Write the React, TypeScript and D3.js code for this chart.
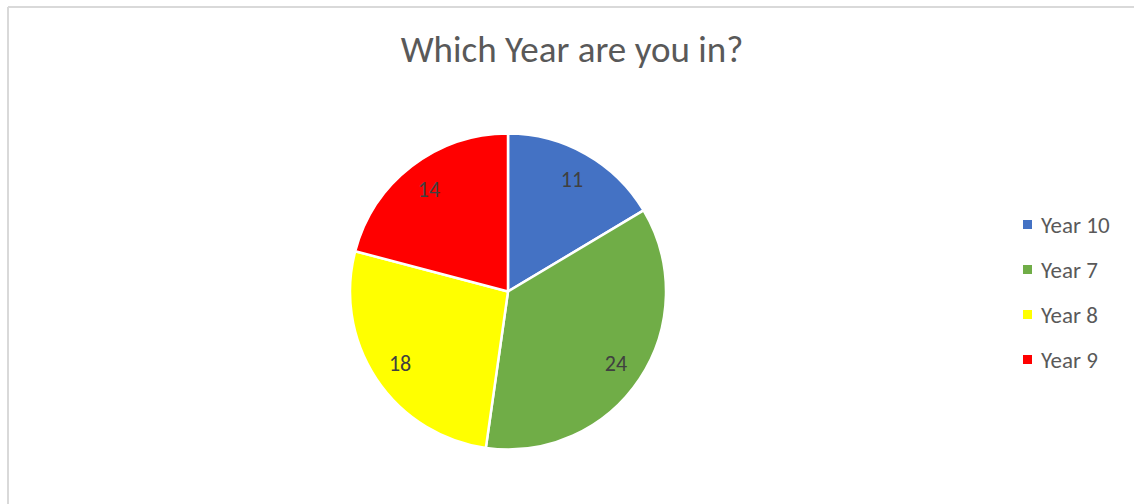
import React from "react";
import * as d3 from "d3";

const categories = ["Year 10", "Year 7", "Year 8", "Year 9"];
const values = [11, 24, 18, 14];
const colors = ["#4472C4", "#70AD47", "#FFFF00", "#FF0000"];
const title = "Which Year are you in?";

export default function App() {
  const W = 1134, H = 504;
  const cx = 508, cy = 291.5, r = 158;
  const pie = d3.pie<number>().sort(null).value((d) => d);
  const arcs = pie(values);
  const arc = d3.arc<d3.PieArcDatum<number>>().innerRadius(0).outerRadius(r);
  const labelArc = d3.arc<d3.PieArcDatum<number>>().innerRadius(r * 0.82).outerRadius(r * 0.82);
  const font = "Carlito, 'Open Sans', 'Liberation Sans', sans-serif";
  return (
    <svg width={W} height={H} style={{ position: "absolute", left: 0, top: 0 }}>
      <rect x={0} y={0} width={W} height={H} fill="#fff" />
      <line x1={8} y1={7} x2={W} y2={7} stroke="#d9d9d9" strokeWidth={2} />
      <line x1={8} y1={7} x2={8} y2={H} stroke="#d9d9d9" strokeWidth={2} />
      <text x={572} y={62} textAnchor="middle" fontFamily={font} fontSize={37} fill="#595959">
        {title}
      </text>
      <g transform={`translate(${cx},${cy})`}>
        {arcs.map((a, i) => (
          <path key={i} d={arc(a) || ""} fill={colors[i]} stroke="#fff" strokeWidth={2.5} strokeLinejoin="round" />
        ))}
        {arcs.map((a, i) => {
          const [x, y] = labelArc.centroid(a);
          return (
            <text key={"l" + i} x={x} y={y + 8} textAnchor="middle" fontFamily={font} fontSize={22} fill="#404040">
              {values[i]}
            </text>
          );
        })}
      </g>
      {categories.map((c, i) => (
        <g key={c} transform={`translate(1023,${224.5 + i * 45})`}>
          <rect x={0} y={-4.5} width={9} height={9} fill={colors[i]} />
          <text x={18} y={8} fontFamily={font} fontSize={23} fill="#595959">
            {c}
          </text>
        </g>
      ))}
    </svg>
  );
}
